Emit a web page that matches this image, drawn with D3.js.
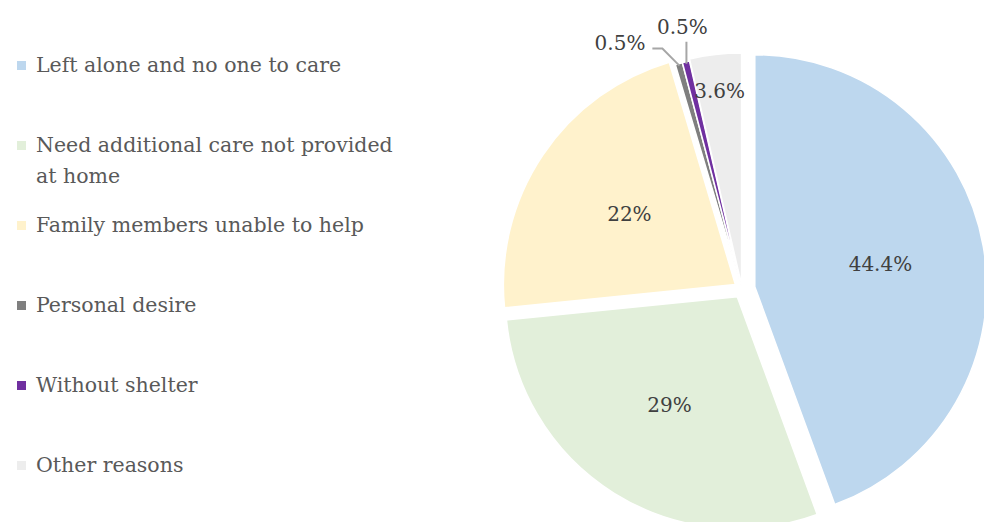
<!DOCTYPE html>
<html>
<head>
<meta charset="utf-8">
<script src="https://cdn.jsdelivr.net/npm/d3@7"></script>
<style>
  body { margin: 0; background: #fff; }
  svg { display: block; }
</style>
</head>
<body>
<svg id="chart" width="984" height="522"></svg>
<script>
// Data
const categories = [
  "Left alone and no one to care",
  "Need additional care not provided at home",
  "Family members unable to help",
  "Personal desire",
  "Without shelter",
  "Other reasons"
];
const legendLines = [
  ["Left alone and no one to care"],
  ["Need additional care not provided", "at home"],
  ["Family members unable to help"],
  ["Personal desire"],
  ["Without shelter"],
  ["Other reasons"]
];
const values = [44.4, 29, 22, 0.5, 0.5, 3.6];
const valueLabels = ["44.4%", "29%", "22%", "0.5%", "0.5%", "3.6%"];
const colors = ["#BDD7EE", "#E2EFDA", "#FFF2CC", "#7F7F7F", "#7030A0", "#EDEDED"];

const svg = d3.select("#chart");
const font = "'DejaVu Serif', 'Liberation Serif', serif";

// Legend
const legend = svg.append("g").attr("transform", "translate(17,0)");
legendLines.forEach((lines, i) => {
  const y0 = 65 + i * 80;
  legend.append("rect")
    .attr("x", 0).attr("y", y0 - 4)
    .attr("width", 9).attr("height", 9)
    .attr("fill", colors[i]);
  const t = legend.append("text")
    .style("font-family", font)
    .style("font-size", "20.5px")
    .style("fill", "#595959");
  lines.forEach((ln, j) => {
    t.append("tspan").attr("x", 19).attr("y", y0 + 7 + j * 31).text(ln);
  });
});

// Pie (slices pulled out by different amounts, like the source)
const cx = 742, cy = 289, r = 232;
const explodeBy = [13, 9, 8, 2, 2, 4];
const pie = d3.pie().sort(null).value(d => d);
const arcs = pie(values);
const arc = d3.arc().innerRadius(0).outerRadius(r);

const g = svg.append("g").attr("transform", `translate(${cx},${cy})`);

const mid = d => (d.startAngle + d.endAngle) / 2;
const off = (d, k) => [Math.sin(mid(d)) * k, -Math.cos(mid(d)) * k];

g.selectAll("path.slice")
  .data(arcs)
  .enter()
  .append("path")
  .attr("class", "slice")
  .attr("d", arc)
  .attr("transform", (d, i) => `translate(${off(d, explodeBy[i])})`)
  .attr("fill", (d, i) => colors[i])
  .attr("stroke", "#fff")
  .attr("stroke-width", 1.5);

// Inside labels
arcs.forEach((d, i) => {
  if (values[i] < 1) return;
  const k = values[i] < 5 ? 0.84 * r : 0.55 * r;
  const [x, y] = off(d, k + explodeBy[i]);
  g.append("text")
    .attr("x", x).attr("y", y)
    .attr("text-anchor", "middle")
    .attr("dominant-baseline", "central")
    .style("font-family", font)
    .style("font-size", "20px")
    .style("fill", "#404040")
    .text(valueLabels[i]);
});

// Outside labels for tiny slices with leader lines
let smallIdx = 0;
arcs.forEach((d, i) => {
  if (values[i] >= 1) return;
  const [px, py] = off(d, r + explodeBy[i] - 2);
  const labelStyle = sel => sel
    .style("font-family", font)
    .style("font-size", "20px")
    .style("fill", "#404040");
  if (smallIdx === 0) {
    const ex = px - 17, ey = py - 17;
    g.append("polyline")
      .attr("points", [[px, py], [ex, ey], [ex - 10, ey]].map(p => p.join(",")).join(" "))
      .attr("fill", "none").attr("stroke", "#A6A6A6").attr("stroke-width", 2);
    g.append("text")
      .attr("x", ex - 17).attr("y", ey + 1)
      .attr("text-anchor", "end")
      .call(labelStyle)
      .text(valueLabels[i]);
  } else {
    const ty = py - 22;
    g.append("line")
      .attr("x1", px).attr("y1", py).attr("x2", px).attr("y2", ty)
      .attr("stroke", "#A6A6A6").attr("stroke-width", 2);
    g.append("text")
      .attr("x", px - 4).attr("y", ty - 8)
      .attr("text-anchor", "middle")
      .call(labelStyle)
      .text(valueLabels[i]);
  }
  smallIdx++;
});
</script>
</body>
</html>
